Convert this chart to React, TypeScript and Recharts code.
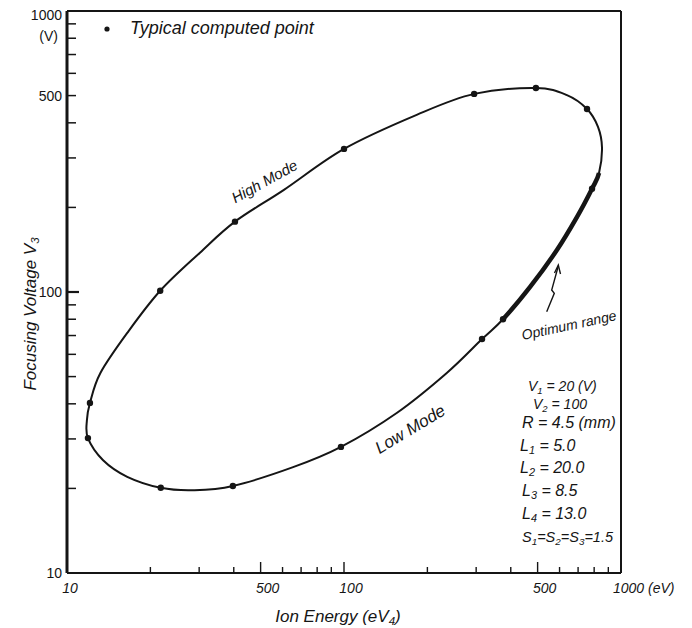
import { ComposedChart, Line, Scatter, XAxis, YAxis } from 'recharts';

const INK = '#151515';
const HAND = '"Liberation Sans", Arial, sans-serif';

// closed loop (eV, V)
const energy = [
  11.9, 11.8, 12.1, 13.2, 16.5, 21.7, 30.2, 40.4, 60.7, 100, 183, 295, 493, 638, 754, 826, 854,
  833, 786, 694, 587, 469, 375, 315, 235, 155, 97.5, 65.5, 39.7, 28.5, 21.8, 16.5, 13.5,
];
const voltage = [
  30.2, 35.0, 40.3, 51.5, 71.5, 101, 138, 178, 231, 323, 427, 507, 532, 502, 448, 387, 326,
  265, 233, 185, 141, 104, 80, 68, 51.5, 37.1, 28.1, 23.8, 20.4, 19.7, 20.1, 22.0, 25.2,
];
// "optimum range" part of the loop (index range into the loop, with one neighbour each side)
const optimumFrom = 16;
const optimumTo = 24;

// typical computed points
const pointEnergy = [11.9, 12.1, 21.7, 40.4, 100, 295, 493, 754, 786, 375, 315, 97.5, 39.7, 21.8];
const pointVoltage = [30.2, 40.3, 101, 178, 323, 507, 532, 448, 233, 80, 68, 28.1, 20.4, 20.1];

const xTicks = [10, 20, 30, 40, 50, 60, 70, 80, 90, 100, 200, 300, 400, 500, 600, 700, 800, 900, 1000];
const yTicks = [10, 20, 30, 40, 50, 60, 70, 80, 90, 100, 200, 300, 400, 500, 600, 700, 800, 900, 1000];
const xMajor = [50, 100, 500];
const xLabelValues = [10, 50, 100, 500, 1000];
const xLabelTexts = ['10', '500', '100', '500', '1000 (eV)'];
const yLabelValues = [10, 100, 500, 1000];
const yLabelTexts = ['10', '100', '500', '1000'];

const params = ['V_1 = 20  (V)', 'V_2 = 100', 'R = 4.5 (mm)', 'L_1 = 5.0', 'L_2 = 20.0', 'L_3 = 8.5', 'L_4 = 13.0', 'S_1=S_2=S_3=1.5'];

const loop = energy.map((x, i) => ({ x, y: voltage[i] }));
const optimum = loop.slice(optimumFrom, optimumTo);
const points = pointEnergy.map((x, i) => ({ x, y: pointVoltage[i] }));

// catmull-rom through the points, closed
const smoothLoop = (ctx: any) => {
  let pts: number[][] = [];
  return {
    areaStart() {},
    areaEnd() {},
    lineStart() { pts = []; },
    point(x: number, y: number) { pts.push([+x, +y]); },
    lineEnd() {
      const n = pts.length;
      if (n < 3) return;
      ctx.moveTo(pts[0][0], pts[0][1]);
      for (let i = 0; i < n; i++) {
        const a = pts[(i + n - 1) % n], b = pts[i], c = pts[(i + 1) % n], d = pts[(i + 2) % n];
        ctx.bezierCurveTo(
          b[0] + (c[0] - a[0]) / 6, b[1] + (c[1] - a[1]) / 6,
          c[0] - (d[0] - b[0]) / 6, c[1] - (d[1] - b[1]) / 6,
          c[0], c[1],
        );
      }
      ctx.closePath();
    },
  };
};

// same spline, open: first and last points only steer the ends
const smoothPiece = (ctx: any) => {
  let pts: number[][] = [];
  return {
    areaStart() {},
    areaEnd() {},
    lineStart() { pts = []; },
    point(x: number, y: number) { pts.push([+x, +y]); },
    lineEnd() {
      const n = pts.length;
      if (n < 4) return;
      ctx.moveTo(pts[1][0], pts[1][1]);
      for (let i = 1; i < n - 2; i++) {
        const a = pts[i - 1], b = pts[i], c = pts[i + 1], d = pts[i + 2];
        ctx.bezierCurveTo(
          b[0] + (c[0] - a[0]) / 6, b[1] + (c[1] - a[1]) / 6,
          c[0] - (d[0] - b[0]) / 6, c[1] - (d[1] - b[1]) / 6,
          c[0], c[1],
        );
      }
    },
  };
};

// "V_1" -> V with subscript 1
function withSubs(text: string) {
  const parts = text.split(/_(.)/);
  return parts.map((p, i) =>
    i % 2 === 1 ? (
      <tspan key={i} fontSize="0.68em" dy={3}>{p}</tspan>
    ) : (
      <tspan key={i} dy={i > 0 ? -3 : 0}>{p}</tspan>
    ),
  );
}

const XTick = (props: any) => {
  const { x, y, payload } = props;
  const v = payload.value;
  const li = xLabelValues.indexOf(v);
  const last = v === 1000;
  return (
    <g>
      {v !== 10 && !last && (
        <line x1={x} x2={x} y1={y} y2={y - (xMajor.includes(v) ? 11 : 6)} stroke={INK} strokeWidth={1.4} />
      )}
      {li >= 0 && (
        <text
          x={last ? x - 8 : x + (v === 10 ? 3 : 7)}
          y={y + 20}
          textAnchor={last ? 'start' : 'middle'}
          fontFamily={HAND}
          fontStyle="italic"
          fontSize={14}
          fill={INK}
        >
          {xLabelTexts[li]}
        </text>
      )}
    </g>
  );
};

const YTick = (props: any) => {
  const { x, y, payload } = props;
  const v = payload.value;
  const li = yLabelValues.indexOf(v);
  return (
    <g>
      {v !== 10 && v !== 1000 && (
        <line x1={x} x2={x + (v === 100 ? 12 : 9)} y1={y} y2={y} stroke={INK} strokeWidth={v === 100 ? 2.2 : 1.5} />
      )}
      {li >= 0 && (
        <text
          x={x - 5}
          y={y + (v === 1000 ? 9 : 5)}
          textAnchor="end"
          fontFamily={HAND}
          fontSize={14}
          fill={INK}
        >
          {yLabelTexts[li]}
        </text>
      )}
    </g>
  );
};

const Dot = (p: any) => <circle cx={p.cx} cy={p.cy} r={3.2} fill={INK} />;

export default function App() {
  return (
    <div style={{ position: 'relative', width: 684, height: 620, background: '#fff' }}>
      <ComposedChart width={684} height={620} margin={{ top: 2, right: 70, left: 58, bottom: 54 }}>
        <XAxis
          dataKey="x"
          type="number"
          scale="log"
          domain={[10, 1000]}
          allowDataOverflow
          ticks={xTicks}
          interval={0}
          tickSize={0}
          tickMargin={0}
          tickLine={false}
          tick={<XTick />}
          height={1}
          axisLine={{ stroke: INK, strokeWidth: 2 }}
        />
        <YAxis
          dataKey="y"
          type="number"
          scale="log"
          domain={[10, 1000]}
          allowDataOverflow
          ticks={yTicks}
          interval={0}
          tickSize={0}
          tickMargin={0}
          tickLine={false}
          tick={<YTick />}
          width={1}
          axisLine={{ stroke: INK, strokeWidth: 3 }}
        />
        <XAxis xAxisId="top" orientation="top" type="number" domain={[0, 1]} tick={false} tickLine={false} height={1} axisLine={{ stroke: INK, strokeWidth: 2 }} />
        <YAxis yAxisId="right" orientation="right" type="number" domain={[0, 1]} tick={false} tickLine={false} width={1} axisLine={{ stroke: INK, strokeWidth: 2 }} />
        <Line data={loop} dataKey="y" type={smoothLoop as any} stroke={INK} strokeWidth={2} dot={false} isAnimationActive={false} />
        <Line data={optimum} dataKey="y" type={smoothPiece as any} stroke={INK} strokeWidth={4.5} dot={false} isAnimationActive={false} />
        <Scatter data={points} shape={<Dot />} isAnimationActive={false} />
      </ComposedChart>

      <svg width={684} height={620} style={{ position: 'absolute', left: 0, top: 0, pointerEvents: 'none' }}>
        <g fontFamily={HAND} fontStyle="italic" fill={INK}>
          <circle cx={99} cy={21} r={2.6} fill={INK} />
          <text x={122} y={26} fontSize={18}>Typical computed point</text>
          <text x={50} y={33} fontSize={14} fontStyle="normal" textAnchor="end">(V)</text>

          <text transform="translate(259,178) rotate(-29)" fontSize={15} textAnchor="middle">High Mode</text>
          <text transform="translate(405,426) rotate(-31)" fontSize={17} textAnchor="middle">Low Mode</text>
          <text transform="translate(562,322) rotate(-12)" fontSize={14} textAnchor="middle">Optimum range</text>

          {params.map((p, i) => (
            <text key={p} x={[520, 525, 514, 512, 512, 514, 514, 514][i]} y={[383, 401, 420, 443, 465, 488, 511, 534][i]} fontSize={i < 2 ? 14 : i === 7 ? 14.5 : 16}>
              {withSubs(p)}
            </text>
          ))}

          <text transform="translate(28,306) rotate(-90)" fontSize={17} textAnchor="middle">
            {withSubs('Focusing  Voltage  V_3')}
          </text>
          <text x={330} y={614} fontSize={17} textAnchor="middle">
            {withSubs('Ion  Energy  (eV_4)')}
          </text>
        </g>
        <g stroke={INK} strokeWidth={1.4} fill="none">
          <polyline points="538.7,303.7 546.3,285.3 543.7,282 550.3,258" />
          <polyline points="546.5,265 550.3,257 552.5,266" />
        </g>
      </svg>
    </div>
  );
}
